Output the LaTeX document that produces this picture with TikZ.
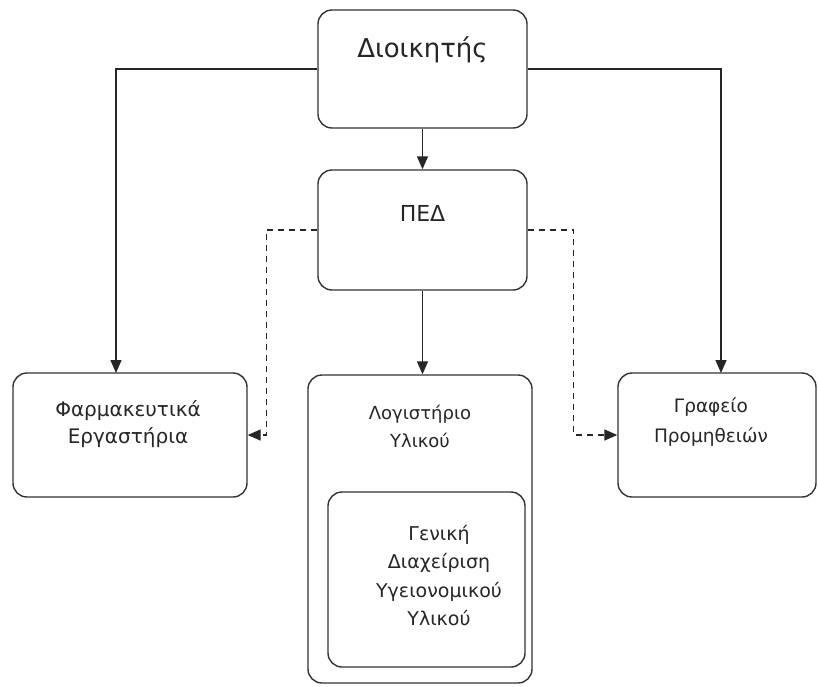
\documentclass[tikz,border=0pt]{standalone}
\usepackage{fontspec}
\setmainfont{DejaVu Sans}
\usetikzlibrary{arrows.meta}
\begin{document}
\begin{tikzpicture}[x=1pt,y=-1pt,
  box/.style={draw=black!80,line width=1.4pt,rounded corners=14pt,fill=white,inner sep=0pt},
  lbl/.style={align=center,inner sep=0pt,text=black!85},
  arr/.style={draw=black!85,line width=1.4pt,-{Triangle[length=13pt,width=11pt]}},
  darr/.style={arr,dash pattern=on 6pt off 5pt}]
\useasboundingbox (0,0) rectangle (818,686);
\node[box,minimum width=209pt,minimum height=118pt] (dio) at (422.5,69) {};
\node[box,minimum width=209pt,minimum height=120pt] (ped) at (422.5,230) {};
\node[box,minimum width=234pt,minimum height=124pt] (far) at (130,435) {};
\node[box,minimum width=198pt,minimum height=124pt] (graf) at (717,435) {};
\node[box,minimum width=224pt,minimum height=308pt] (log) at (420,529) {};
\node[box,minimum width=197pt,minimum height=175pt] (gen) at (426.5,579.5) {};
\node[lbl,font=\fontsize{26}{30}\selectfont] (tdio) at (422.5,50) {Διοικητής};
\node[lbl,font=\fontsize{22}{28}\selectfont] (tped) at (422.5,213) {ΠΕΔ};
\node[lbl,font=\fontsize{20}{27}\selectfont] (tfar) at (128,424) {Φαρμακευτικά\\Εργαστήρια};
\node[lbl,font=\fontsize{18.5}{30}\selectfont] (tgraf) at (711,422) {Γραφείο\\Προμηθειών};
\node[lbl,font=\fontsize{18}{28}\selectfont] (tlog) at (420,426) {Λογιστήριο\\Υλικού};
\node[lbl,font=\fontsize{19}{28.5}\selectfont] (tgen) at (439,575.5) {Γενική\\Διαχείριση\\Υγειονομικού\\Υλικού};
\coordinate (farin) at (116,373);
\coordinate (grafin) at (721,373);
\draw[arr] (dio.west) -| (farin);
\draw[arr] (dio.east) -| (grafin);
\draw[arr] (dio.south) -- (ped.north);
\draw[arr] (ped.south) -- (ped.south |- log.north);
\draw[darr] (ped.west) -- ++(-51,0) |- (far.east);
\draw[darr] (ped.east) -- ++(46,0) |- (graf.west);
\end{tikzpicture}
\end{document}
